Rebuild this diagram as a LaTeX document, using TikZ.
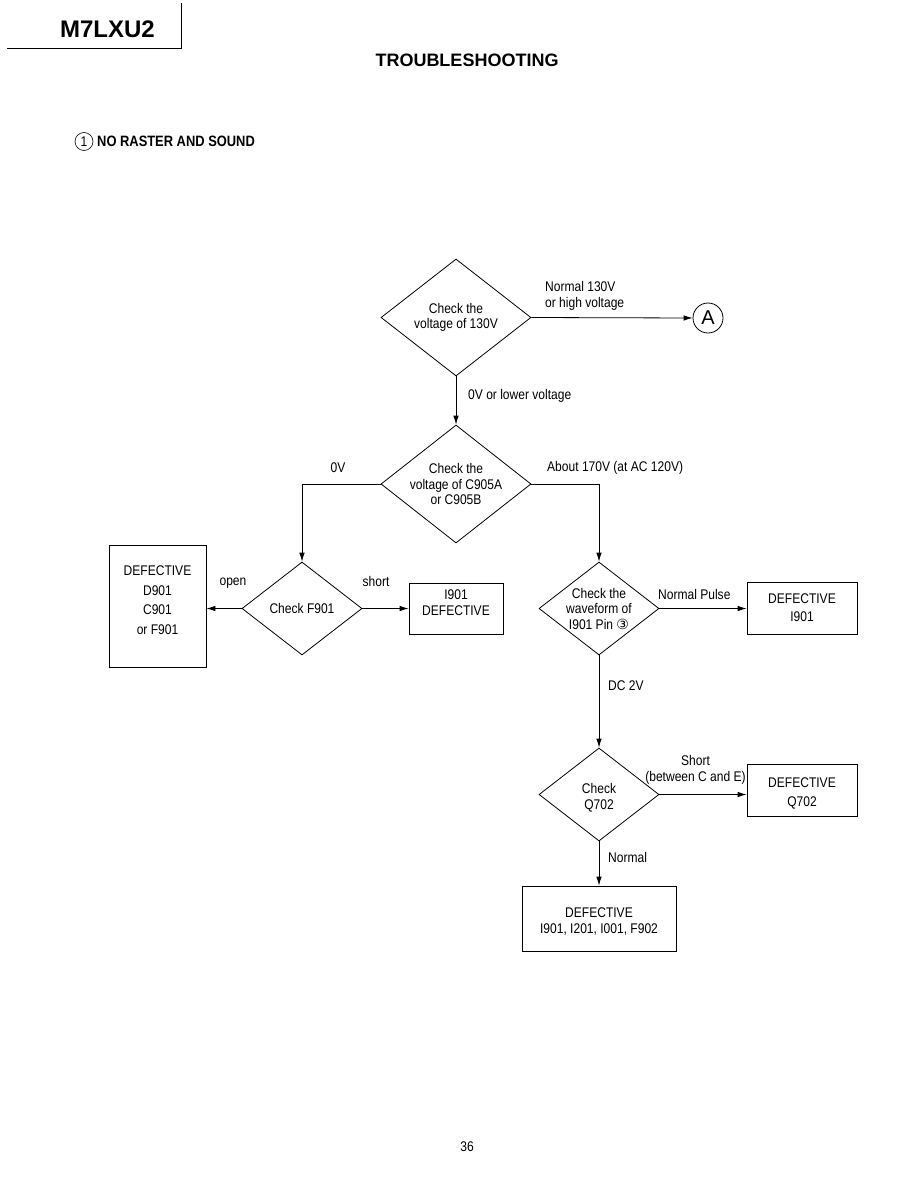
\documentclass[tikz,border=0pt]{standalone}
\usepackage{fontspec}
\setmainfont{Liberation Sans}
\newfontfamily\narrowfont[FakeStretch=0.86]{Liberation Sans}
\newfontfamily\dejavu{DejaVu Sans}
\usetikzlibrary{shapes.geometric,arrows.meta}
\begin{document}
\begin{tikzpicture}[x=1pt,y=-1pt,
  txt/.style={font=\narrowfont\fontsize{14}{15.5}\selectfont, align=center, inner sep=0pt},
  dia/.style={diamond, draw, line width=0.8pt, inner sep=0pt},
  box/.style={rectangle, draw, line width=0.8pt, inner sep=0pt},
  arr/.style={-{Latex[length=9pt,width=5.5pt]}, line width=0.8pt},
  lbl/.style={font=\narrowfont\fontsize{14}{15.5}\selectfont, align=left, inner sep=0pt}]
\fill[white] (0,0) rectangle (918,1188);
\useasboundingbox (0,0) rectangle (918,1188);

% header
\node[font=\fontsize{24}{28}\selectfont\bfseries, inner sep=0pt] (model) at (107.5,29) {M7LXU2};
\coordinate (hl) at (7,48);
\coordinate (hc) at (181,48);
\coordinate (ht) at (181,3);
\draw[line width=0.9pt] (hl) -- (hc) -- (ht);
\node[font=\fontsize{18}{21}\selectfont\bfseries, inner sep=0pt] (title) at (467,60) {TROUBLESHOOTING};

% section title
\node[circle, draw, line width=0.6pt, minimum size=18pt, inner sep=0pt,
      font=\narrowfont\fontsize{14}{15}\selectfont] (one) at (84,141.5) {1};
\node[font=\narrowfont\fontsize{15}{18}\selectfont\bfseries, anchor=west, inner sep=0pt] (sec) at (97,141) {NO RASTER AND SOUND};

% decision nodes
\node[dia, minimum width=150pt, minimum height=117pt,
      label={[txt]center:Check the\\voltage of 130V}] (d1) at (456,317.5) {};
\node[circle, draw, line width=0.8pt, minimum size=30pt, inner sep=0pt,
      font=\fontsize{20}{21}\selectfont] (A) at (708,318) {A};
\node[dia, minimum width=150pt, minimum height=118pt,
      label={[txt]center:Check the\\voltage of C905A\\or C905B}] (d2) at (456,484) {};
\node[dia, minimum width=120pt, minimum height=93pt,
      label={[txt]center:Check F901}] (f901) at (302,608.5) {};
\node[dia, minimum width=120pt, minimum height=93pt,
      label={[txt]center:Check the\\waveform of\\I901 Pin {\dejavu\fontsize{14}{14}\selectfont ③}}] (d3) at (599,608.5) {};
\node[dia, minimum width=120pt, minimum height=93pt,
      label={[txt, yshift=-3pt]center:Check\\Q702}] (d4) at (599,794.5) {};

% result boxes
\node[box, minimum width=97pt, minimum height=122pt,
      label={[txt, font=\narrowfont\fontsize{14}{19.5}\selectfont, yshift=6pt]center:DEFECTIVE\\D901\\C901\\or F901}] (bL) at (157.5,606) {};
\node[box, minimum width=94pt, minimum height=51pt,
      label={[txt, yshift=6pt]center:I901\\DEFECTIVE}] (bS) at (456,608.5) {};
\node[box, minimum width=110pt, minimum height=52pt,
      label={[txt, font=\narrowfont\fontsize{14}{18}\selectfont]center:DEFECTIVE\\I901}] (bP) at (802,608) {};
\node[box, minimum width=110pt, minimum height=52pt,
      label={[txt, font=\narrowfont\fontsize{14}{19}\selectfont, yshift=-3pt]center:DEFECTIVE\\Q702}] (bQ) at (802,790) {};
\node[box, minimum width=154pt, minimum height=65pt,
      label={[txt, font=\narrowfont\fontsize{14}{16}\selectfont, yshift=-2.5pt]center:DEFECTIVE\\I901, I201, I001, F902}] (bF) at (599,918.5) {};

% connectors
\draw[arr] (d1.east) -- (A.west);
\draw[arr] (d1.south) -- (d2.north);
\draw[arr] (d2.west) -| (f901.north);
\draw[arr] (d2.east) -| (d3.north);
\draw[arr] (f901.west) -- (f901.west -| bL.east);
\draw[arr] (f901.east) -- (f901.east -| bS.west);
\draw[arr] (d3.east) -- (d3.east -| bP.west);
\draw[arr] (d3.south) -- (d4.north);
\draw[arr] (d4.east) -- (d4.east -| bQ.west);
\draw[arr] (d4.south) -- (bF.north);

% connector labels
\node[lbl, anchor=west] (l1) at (545,296) {Normal 130V\\or high voltage};
\node[lbl, anchor=west] (l2) at (468,396) {0V or lower voltage};
\node[lbl] (l3) at (338,468) {0V};
\node[lbl, anchor=west] (l4) at (547,468) {About 170V (at AC 120V)};
\node[lbl] (l5) at (233,583) {open};
\node[lbl] (l6) at (376,581) {short};
\node[lbl, anchor=west] (l7) at (658,594) {Normal Pulse};
\node[lbl, anchor=west] (l8) at (608,686) {DC 2V};
\node[lbl, align=center] (l9) at (695.5,770) {Short\\(between C and E)};
\node[lbl, anchor=west] (l10) at (608,857) {Normal};

% page number
\node[font=\narrowfont\fontsize{14}{16}\selectfont, inner sep=0pt] (page) at (467,1147) {36};
\end{tikzpicture}
\end{document}
